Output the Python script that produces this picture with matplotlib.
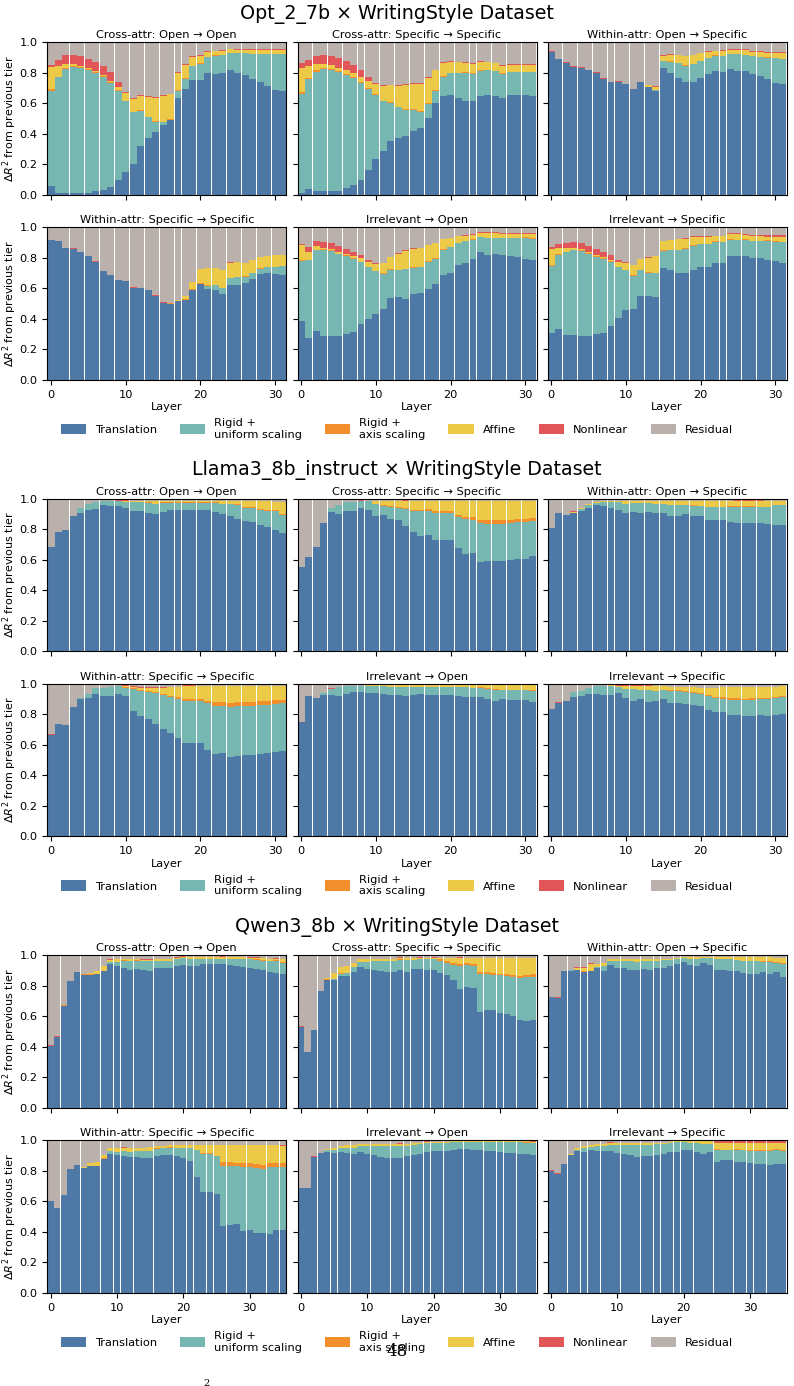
import numpy as np
import matplotlib
matplotlib.use("Agg")
import matplotlib.pyplot as plt
from matplotlib.patches import Patch

plt.rcParams.update({
    'font.family': 'DejaVu Sans',
    'font.size': 8.2,
    'axes.titlesize': 8.2,
    'axes.labelsize': 8.2,
    'xtick.labelsize': 8.2,
    'ytick.labelsize': 8.2,
    'axes.linewidth': 0.8,
})

TIER_LABELS = ["Translation", "Rigid +\nuniform scaling", "Rigid +\naxis scaling",
               "Affine", "Nonlinear", "Residual"]
TIER_COLORS = ["#4e79a7", "#76b7b2", "#f28e2b", "#edc948", "#e15759", "#bab0ac"]

PANEL_TITLES = ["Cross-attr: Open \u2192 Open", "Cross-attr: Specific \u2192 Specific",
                "Within-attr: Open \u2192 Specific", "Within-attr: Specific \u2192 Specific",
                "Irrelevant \u2192 Open", "Irrelevant \u2192 Specific"]
MODEL_TITLES = ["Opt_2_7b \u00d7 WritingStyle Dataset",
                "Llama3_8b_instruct \u00d7 WritingStyle Dataset",
                "Qwen3_8b \u00d7 WritingStyle Dataset"]

# cumulative R^2 reached after each tier (translation, +rigid, +axis, +affine, +nonlinear)
# residual = 1 - nonlinear level

# ---------------- Opt_2_7b ----------------
opt_cross_open_trans = [0.055, 0.015, 0.015, 0.010, 0.010, 0.015, 0.024, 0.030, 0.050, 0.100, 0.147, 0.200, 0.318, 0.370, 0.410, 0.456, 0.489, 0.634, 0.693, 0.752, 0.752, 0.798, 0.792, 0.800, 0.818, 0.798, 0.785, 0.759, 0.739, 0.713, 0.686, 0.680]
opt_cross_open_rigid = [0.680, 0.770, 0.825, 0.838, 0.833, 0.818, 0.800, 0.772, 0.732, 0.680, 0.614, 0.542, 0.548, 0.509, 0.480, 0.476, 0.489, 0.680, 0.759, 0.844, 0.860, 0.903, 0.912, 0.917, 0.930, 0.930, 0.928, 0.923, 0.923, 0.923, 0.923, 0.923]
opt_cross_open_axis = [0.695, 0.775, 0.830, 0.842, 0.838, 0.822, 0.805, 0.776, 0.737, 0.684, 0.618, 0.546, 0.553, 0.513, 0.483, 0.480, 0.498, 0.686, 0.763, 0.846, 0.864, 0.905, 0.914, 0.919, 0.932, 0.932, 0.930, 0.925, 0.925, 0.925, 0.925, 0.925]
opt_cross_open_affine = [0.840, 0.845, 0.857, 0.857, 0.845, 0.833, 0.810, 0.787, 0.748, 0.706, 0.667, 0.627, 0.647, 0.640, 0.638, 0.651, 0.660, 0.800, 0.853, 0.903, 0.910, 0.936, 0.940, 0.945, 0.956, 0.952, 0.950, 0.950, 0.952, 0.952, 0.952, 0.952]
opt_cross_open_nonlin = [0.850, 0.885, 0.917, 0.917, 0.910, 0.890, 0.870, 0.845, 0.807, 0.741, 0.673, 0.634, 0.653, 0.647, 0.642, 0.654, 0.662, 0.807, 0.860, 0.912, 0.917, 0.943, 0.945, 0.950, 0.958, 0.956, 0.954, 0.954, 0.956, 0.956, 0.956, 0.956]

opt_cross_spec_trans = [0.015, 0.035, 0.028, 0.028, 0.028, 0.028, 0.042, 0.061, 0.100, 0.160, 0.232, 0.285, 0.351, 0.370, 0.384, 0.417, 0.436, 0.502, 0.600, 0.647, 0.653, 0.634, 0.614, 0.614, 0.647, 0.653, 0.647, 0.634, 0.653, 0.653, 0.653, 0.647]
opt_cross_spec_rigid = [0.662, 0.759, 0.807, 0.825, 0.818, 0.807, 0.787, 0.765, 0.732, 0.693, 0.654, 0.612, 0.600, 0.575, 0.555, 0.555, 0.544, 0.594, 0.680, 0.772, 0.798, 0.798, 0.798, 0.792, 0.811, 0.818, 0.811, 0.792, 0.805, 0.805, 0.805, 0.805]
opt_cross_spec_axis = [0.673, 0.763, 0.816, 0.830, 0.824, 0.814, 0.793, 0.772, 0.739, 0.700, 0.660, 0.618, 0.607, 0.579, 0.561, 0.561, 0.550, 0.600, 0.684, 0.778, 0.800, 0.800, 0.803, 0.798, 0.818, 0.820, 0.813, 0.798, 0.807, 0.807, 0.807, 0.807]
opt_cross_spec_affine = [0.833, 0.844, 0.857, 0.857, 0.850, 0.831, 0.818, 0.798, 0.772, 0.746, 0.726, 0.713, 0.717, 0.715, 0.720, 0.726, 0.726, 0.765, 0.818, 0.864, 0.870, 0.870, 0.864, 0.857, 0.870, 0.870, 0.864, 0.844, 0.851, 0.851, 0.851, 0.851]
opt_cross_spec_nonlin = [0.864, 0.884, 0.910, 0.917, 0.910, 0.897, 0.877, 0.851, 0.818, 0.772, 0.732, 0.717, 0.720, 0.718, 0.724, 0.732, 0.732, 0.770, 0.820, 0.870, 0.877, 0.874, 0.870, 0.864, 0.877, 0.874, 0.867, 0.851, 0.855, 0.855, 0.857, 0.857]

opt_within_open_trans = [0.936, 0.890, 0.864, 0.838, 0.831, 0.818, 0.798, 0.759, 0.739, 0.739, 0.726, 0.693, 0.739, 0.706, 0.680, 0.831, 0.798, 0.765, 0.739, 0.739, 0.765, 0.792, 0.811, 0.805, 0.825, 0.811, 0.811, 0.792, 0.778, 0.759, 0.732, 0.726]
opt_within_open_rigid = [0.936, 0.890, 0.864, 0.838, 0.831, 0.818, 0.798, 0.759, 0.739, 0.739, 0.726, 0.693, 0.739, 0.706, 0.686, 0.877, 0.870, 0.864, 0.844, 0.857, 0.877, 0.897, 0.910, 0.910, 0.923, 0.923, 0.917, 0.910, 0.903, 0.897, 0.897, 0.890]
opt_within_open_axis = [0.936, 0.890, 0.864, 0.838, 0.831, 0.818, 0.798, 0.759, 0.739, 0.739, 0.726, 0.693, 0.739, 0.706, 0.686, 0.879, 0.877, 0.866, 0.851, 0.859, 0.879, 0.899, 0.917, 0.912, 0.925, 0.925, 0.919, 0.912, 0.905, 0.903, 0.899, 0.892]
opt_within_open_affine = [0.936, 0.890, 0.864, 0.838, 0.831, 0.818, 0.798, 0.759, 0.739, 0.739, 0.726, 0.693, 0.739, 0.720, 0.706, 0.910, 0.917, 0.917, 0.910, 0.917, 0.930, 0.936, 0.943, 0.943, 0.950, 0.952, 0.950, 0.936, 0.936, 0.930, 0.930, 0.930]
opt_within_open_nonlin = [0.943, 0.890, 0.870, 0.844, 0.835, 0.818, 0.805, 0.765, 0.739, 0.746, 0.726, 0.693, 0.739, 0.720, 0.713, 0.917, 0.923, 0.920, 0.912, 0.920, 0.933, 0.943, 0.946, 0.950, 0.956, 0.956, 0.953, 0.943, 0.940, 0.936, 0.936, 0.936]

opt_within_spec_trans = [0.919, 0.910, 0.867, 0.860, 0.838, 0.812, 0.772, 0.713, 0.687, 0.654, 0.648, 0.602, 0.602, 0.589, 0.549, 0.503, 0.497, 0.516, 0.523, 0.589, 0.626, 0.595, 0.589, 0.562, 0.621, 0.621, 0.635, 0.661, 0.694, 0.700, 0.694, 0.687]
opt_within_spec_rigid = [0.919, 0.910, 0.867, 0.860, 0.838, 0.812, 0.772, 0.713, 0.687, 0.654, 0.648, 0.602, 0.602, 0.589, 0.549, 0.503, 0.497, 0.516, 0.523, 0.589, 0.630, 0.615, 0.621, 0.602, 0.667, 0.674, 0.674, 0.700, 0.726, 0.740, 0.740, 0.746]
opt_within_spec_axis = [0.919, 0.910, 0.867, 0.860, 0.838, 0.812, 0.772, 0.713, 0.687, 0.654, 0.648, 0.602, 0.602, 0.589, 0.549, 0.505, 0.503, 0.520, 0.530, 0.595, 0.634, 0.621, 0.623, 0.604, 0.669, 0.676, 0.680, 0.702, 0.733, 0.742, 0.742, 0.748]
opt_within_spec_affine = [0.919, 0.910, 0.867, 0.860, 0.838, 0.812, 0.772, 0.713, 0.687, 0.654, 0.648, 0.602, 0.602, 0.589, 0.549, 0.505, 0.503, 0.523, 0.549, 0.641, 0.726, 0.733, 0.733, 0.720, 0.766, 0.772, 0.766, 0.786, 0.805, 0.812, 0.818, 0.818]
opt_within_spec_nonlin = [0.919, 0.910, 0.867, 0.864, 0.838, 0.812, 0.779, 0.713, 0.687, 0.654, 0.648, 0.608, 0.602, 0.589, 0.556, 0.510, 0.503, 0.523, 0.549, 0.641, 0.726, 0.733, 0.733, 0.720, 0.772, 0.772, 0.766, 0.786, 0.805, 0.812, 0.818, 0.818]

opt_irr_open_trans = [0.385, 0.274, 0.320, 0.287, 0.287, 0.287, 0.300, 0.313, 0.365, 0.398, 0.431, 0.464, 0.536, 0.543, 0.530, 0.562, 0.569, 0.595, 0.628, 0.687, 0.700, 0.753, 0.766, 0.792, 0.838, 0.818, 0.825, 0.818, 0.812, 0.805, 0.792, 0.786]
opt_irr_open_rigid = [0.779, 0.786, 0.851, 0.851, 0.845, 0.825, 0.812, 0.792, 0.772, 0.740, 0.713, 0.694, 0.720, 0.720, 0.726, 0.733, 0.740, 0.772, 0.792, 0.851, 0.871, 0.897, 0.910, 0.917, 0.937, 0.930, 0.930, 0.930, 0.930, 0.930, 0.930, 0.923]
opt_irr_open_axis = [0.786, 0.788, 0.853, 0.856, 0.851, 0.827, 0.817, 0.797, 0.774, 0.742, 0.715, 0.700, 0.726, 0.722, 0.728, 0.740, 0.742, 0.779, 0.799, 0.858, 0.873, 0.899, 0.912, 0.923, 0.939, 0.932, 0.932, 0.932, 0.932, 0.932, 0.935, 0.928]
opt_irr_open_affine = [0.884, 0.838, 0.877, 0.864, 0.858, 0.838, 0.825, 0.812, 0.799, 0.772, 0.759, 0.766, 0.805, 0.825, 0.845, 0.858, 0.864, 0.884, 0.897, 0.923, 0.930, 0.943, 0.943, 0.950, 0.963, 0.963, 0.963, 0.956, 0.956, 0.956, 0.956, 0.956]
opt_irr_open_nonlin = [0.890, 0.871, 0.910, 0.904, 0.897, 0.877, 0.858, 0.838, 0.818, 0.786, 0.766, 0.769, 0.808, 0.831, 0.848, 0.861, 0.867, 0.887, 0.900, 0.926, 0.933, 0.946, 0.950, 0.956, 0.966, 0.966, 0.966, 0.963, 0.963, 0.963, 0.963, 0.963]

opt_irr_spec_trans = [0.306, 0.333, 0.293, 0.293, 0.287, 0.287, 0.300, 0.306, 0.352, 0.405, 0.457, 0.464, 0.549, 0.549, 0.543, 0.733, 0.720, 0.700, 0.700, 0.720, 0.740, 0.740, 0.766, 0.766, 0.812, 0.812, 0.812, 0.799, 0.799, 0.786, 0.779, 0.766]
opt_irr_spec_rigid = [0.746, 0.818, 0.838, 0.849, 0.845, 0.825, 0.805, 0.792, 0.772, 0.740, 0.720, 0.681, 0.720, 0.700, 0.700, 0.845, 0.851, 0.851, 0.858, 0.877, 0.890, 0.890, 0.904, 0.904, 0.917, 0.917, 0.917, 0.910, 0.910, 0.910, 0.904, 0.904]
opt_irr_spec_axis = [0.753, 0.825, 0.840, 0.851, 0.851, 0.831, 0.811, 0.797, 0.779, 0.742, 0.722, 0.687, 0.722, 0.707, 0.702, 0.851, 0.853, 0.853, 0.864, 0.884, 0.892, 0.892, 0.910, 0.906, 0.923, 0.919, 0.923, 0.912, 0.912, 0.917, 0.910, 0.906]
opt_irr_spec_affine = [0.858, 0.864, 0.864, 0.864, 0.858, 0.838, 0.818, 0.805, 0.786, 0.772, 0.766, 0.753, 0.792, 0.799, 0.812, 0.910, 0.917, 0.923, 0.923, 0.937, 0.937, 0.937, 0.943, 0.943, 0.956, 0.956, 0.950, 0.943, 0.943, 0.937, 0.937, 0.937]
opt_irr_spec_nonlin = [0.871, 0.890, 0.897, 0.904, 0.897, 0.877, 0.858, 0.838, 0.818, 0.786, 0.770, 0.756, 0.795, 0.802, 0.815, 0.913, 0.920, 0.926, 0.930, 0.940, 0.943, 0.943, 0.946, 0.946, 0.960, 0.960, 0.956, 0.950, 0.950, 0.950, 0.950, 0.950]

# ---------------- Llama3_8b_instruct ----------------
llama_cross_open_trans = [0.686, 0.784, 0.797, 0.889, 0.908, 0.928, 0.935, 0.961, 0.954, 0.954, 0.941, 0.922, 0.922, 0.908, 0.902, 0.915, 0.928, 0.928, 0.928, 0.928, 0.928, 0.928, 0.915, 0.902, 0.889, 0.869, 0.856, 0.850, 0.830, 0.817, 0.797, 0.778]
llama_cross_open_rigid = [0.686, 0.784, 0.797, 0.889, 0.941, 0.967, 0.980, 0.987, 0.987, 0.987, 0.980, 0.980, 0.980, 0.974, 0.967, 0.974, 0.974, 0.974, 0.974, 0.974, 0.974, 0.974, 0.974, 0.967, 0.967, 0.961, 0.941, 0.941, 0.928, 0.922, 0.922, 0.895]
llama_cross_open_axis = [0.686, 0.784, 0.797, 0.889, 0.941, 0.967, 0.980, 0.987, 0.987, 0.987, 0.980, 0.980, 0.980, 0.978, 0.969, 0.976, 0.976, 0.976, 0.976, 0.976, 0.976, 0.976, 0.976, 0.969, 0.969, 0.963, 0.948, 0.944, 0.935, 0.928, 0.928, 0.902]
llama_cross_open_affine = [0.686, 0.784, 0.797, 0.889, 0.941, 0.967, 0.980, 0.987, 0.987, 0.987, 0.987, 0.987, 0.987, 0.987, 0.987, 0.987, 0.987, 0.987, 0.987, 0.987, 0.987, 0.987, 0.987, 0.987, 0.987, 0.987, 0.987, 0.987, 0.987, 0.985, 0.980, 0.980]
llama_cross_open_nonlin = [0.686, 0.784, 0.797, 0.889, 0.941, 0.967, 0.980, 0.987, 0.987, 0.993, 0.993, 0.987, 0.987, 0.987, 0.987, 0.987, 0.987, 0.987, 0.987, 0.987, 0.987, 0.987, 0.987, 0.987, 0.987, 0.987, 0.987, 0.987, 0.987, 0.985, 0.980, 0.980]

llama_cross_spec_trans = [0.556, 0.620, 0.686, 0.843, 0.915, 0.902, 0.922, 0.922, 0.941, 0.928, 0.889, 0.895, 0.869, 0.863, 0.824, 0.784, 0.758, 0.765, 0.732, 0.732, 0.732, 0.680, 0.640, 0.647, 0.588, 0.595, 0.595, 0.595, 0.601, 0.608, 0.608, 0.627]
llama_cross_spec_rigid = [0.556, 0.620, 0.686, 0.843, 0.941, 0.961, 0.980, 0.980, 0.987, 0.987, 0.967, 0.954, 0.948, 0.941, 0.935, 0.922, 0.922, 0.922, 0.908, 0.908, 0.908, 0.882, 0.869, 0.863, 0.843, 0.837, 0.837, 0.837, 0.843, 0.850, 0.850, 0.856]
llama_cross_spec_axis = [0.556, 0.620, 0.686, 0.843, 0.941, 0.961, 0.980, 0.980, 0.987, 0.987, 0.967, 0.961, 0.950, 0.944, 0.941, 0.928, 0.928, 0.935, 0.922, 0.922, 0.922, 0.895, 0.882, 0.882, 0.863, 0.863, 0.863, 0.863, 0.863, 0.869, 0.869, 0.876]
llama_cross_spec_affine = [0.556, 0.620, 0.686, 0.843, 0.941, 0.961, 0.980, 0.980, 0.987, 0.987, 0.987, 0.987, 0.987, 0.987, 0.987, 0.987, 0.987, 0.987, 0.987, 0.987, 0.987, 0.987, 0.987, 0.987, 0.987, 0.987, 0.987, 0.987, 0.987, 0.987, 0.987, 0.987]
llama_cross_spec_nonlin = [0.556, 0.620, 0.686, 0.843, 0.941, 0.961, 0.980, 0.980, 0.993, 0.987, 0.987, 0.987, 0.987, 0.987, 0.991, 0.987, 0.987, 0.987, 0.987, 0.987, 0.987, 0.987, 0.987, 0.987, 0.987, 0.987, 0.987, 0.987, 0.987, 0.987, 0.987, 0.987]

llama_within_open_trans = [0.810, 0.908, 0.895, 0.908, 0.922, 0.941, 0.961, 0.954, 0.941, 0.928, 0.908, 0.915, 0.908, 0.915, 0.908, 0.908, 0.889, 0.889, 0.902, 0.889, 0.889, 0.863, 0.863, 0.863, 0.850, 0.843, 0.843, 0.843, 0.843, 0.837, 0.830, 0.830]
llama_within_open_rigid = [0.810, 0.908, 0.895, 0.908, 0.935, 0.961, 0.974, 0.980, 0.980, 0.980, 0.967, 0.974, 0.974, 0.974, 0.967, 0.967, 0.961, 0.961, 0.961, 0.954, 0.954, 0.948, 0.948, 0.948, 0.948, 0.948, 0.948, 0.948, 0.948, 0.948, 0.961, 0.961]
llama_within_open_axis = [0.810, 0.908, 0.895, 0.908, 0.935, 0.961, 0.974, 0.980, 0.980, 0.980, 0.967, 0.974, 0.974, 0.974, 0.967, 0.967, 0.961, 0.961, 0.961, 0.958, 0.954, 0.948, 0.948, 0.948, 0.954, 0.954, 0.954, 0.954, 0.948, 0.948, 0.961, 0.961]
llama_within_open_affine = [0.810, 0.908, 0.895, 0.915, 0.941, 0.967, 0.980, 0.987, 0.987, 0.987, 0.987, 0.987, 0.987, 0.987, 0.987, 0.987, 0.987, 0.987, 0.987, 0.987, 0.987, 0.987, 0.987, 0.987, 0.987, 0.987, 0.987, 0.987, 0.987, 0.987, 0.987, 0.987]
llama_within_open_nonlin = [0.810, 0.908, 0.895, 0.920, 0.941, 0.967, 0.980, 0.987, 0.987, 0.987, 0.987, 0.987, 0.987, 0.987, 0.987, 0.987, 0.987, 0.987, 0.987, 0.987, 0.987, 0.987, 0.987, 0.987, 0.987, 0.993, 0.993, 0.993, 0.993, 0.987, 0.987, 0.987]

llama_within_spec_trans = [0.664, 0.738, 0.731, 0.849, 0.902, 0.908, 0.934, 0.921, 0.921, 0.934, 0.921, 0.823, 0.790, 0.771, 0.738, 0.705, 0.679, 0.646, 0.614, 0.614, 0.614, 0.568, 0.541, 0.548, 0.522, 0.528, 0.535, 0.535, 0.541, 0.548, 0.555, 0.561]
llama_within_spec_rigid = [0.664, 0.738, 0.731, 0.849, 0.905, 0.934, 0.974, 0.974, 0.980, 0.987, 0.974, 0.967, 0.954, 0.948, 0.941, 0.928, 0.915, 0.902, 0.889, 0.889, 0.889, 0.876, 0.856, 0.856, 0.849, 0.856, 0.856, 0.856, 0.862, 0.862, 0.869, 0.876]
llama_within_spec_axis = [0.664, 0.738, 0.731, 0.849, 0.905, 0.934, 0.974, 0.974, 0.980, 0.987, 0.980, 0.974, 0.961, 0.954, 0.948, 0.934, 0.921, 0.915, 0.902, 0.902, 0.902, 0.889, 0.882, 0.882, 0.876, 0.882, 0.882, 0.882, 0.889, 0.889, 0.895, 0.895]
llama_within_spec_affine = [0.664, 0.738, 0.731, 0.849, 0.905, 0.934, 0.974, 0.974, 0.980, 0.987, 0.987, 0.980, 0.974, 0.974, 0.974, 0.974, 0.980, 0.980, 0.987, 0.987, 0.987, 0.987, 0.987, 0.987, 0.987, 0.987, 0.987, 0.987, 0.987, 0.987, 0.987, 0.987]
llama_within_spec_nonlin = [0.672, 0.738, 0.731, 0.849, 0.905, 0.934, 0.974, 0.974, 0.980, 0.987, 0.993, 0.987, 0.977, 0.977, 0.977, 0.977, 0.980, 0.980, 0.993, 0.993, 0.987, 0.987, 0.987, 0.987, 0.987, 0.987, 0.987, 0.987, 0.987, 0.987, 0.987, 0.987]

llama_irr_open_trans = [0.751, 0.921, 0.908, 0.928, 0.928, 0.921, 0.934, 0.948, 0.948, 0.941, 0.941, 0.934, 0.928, 0.928, 0.921, 0.928, 0.934, 0.928, 0.928, 0.928, 0.928, 0.921, 0.915, 0.915, 0.915, 0.902, 0.889, 0.902, 0.895, 0.895, 0.895, 0.882]
llama_irr_open_rigid = [0.751, 0.921, 0.908, 0.941, 0.967, 0.980, 0.987, 0.987, 0.987, 0.987, 0.987, 0.987, 0.980, 0.980, 0.980, 0.980, 0.980, 0.980, 0.980, 0.980, 0.980, 0.980, 0.980, 0.974, 0.974, 0.967, 0.961, 0.961, 0.961, 0.961, 0.961, 0.954]
llama_irr_open_axis = [0.751, 0.921, 0.908, 0.941, 0.967, 0.980, 0.987, 0.987, 0.987, 0.987, 0.987, 0.987, 0.980, 0.980, 0.980, 0.980, 0.980, 0.980, 0.980, 0.980, 0.980, 0.980, 0.980, 0.974, 0.978, 0.972, 0.966, 0.961, 0.961, 0.961, 0.961, 0.960]
llama_irr_open_affine = [0.751, 0.921, 0.908, 0.941, 0.967, 0.980, 0.987, 0.987, 0.987, 0.990, 0.990, 0.990, 0.990, 0.990, 0.990, 0.990, 0.990, 0.990, 0.990, 0.990, 0.990, 0.990, 0.990, 0.990, 0.990, 0.990, 0.990, 0.990, 0.990, 0.990, 0.990, 0.990]
llama_irr_open_nonlin = [0.751, 0.921, 0.908, 0.941, 0.972, 0.980, 0.987, 0.987, 0.987, 0.990, 0.990, 0.990, 0.990, 0.990, 0.990, 0.990, 0.990, 0.996, 0.996, 0.990, 0.990, 0.990, 0.994, 0.990, 0.990, 0.990, 0.990, 0.990, 0.990, 0.990, 0.990, 0.990]

llama_irr_spec_trans = [0.836, 0.876, 0.889, 0.915, 0.921, 0.934, 0.934, 0.928, 0.928, 0.941, 0.908, 0.889, 0.902, 0.882, 0.889, 0.902, 0.876, 0.876, 0.869, 0.862, 0.856, 0.830, 0.817, 0.817, 0.797, 0.797, 0.790, 0.790, 0.797, 0.790, 0.797, 0.803]
llama_irr_spec_rigid = [0.836, 0.876, 0.889, 0.948, 0.954, 0.974, 0.987, 0.987, 0.987, 0.980, 0.967, 0.967, 0.961, 0.961, 0.954, 0.961, 0.954, 0.954, 0.948, 0.941, 0.934, 0.921, 0.908, 0.902, 0.895, 0.895, 0.895, 0.895, 0.902, 0.902, 0.908, 0.915]
llama_irr_spec_axis = [0.836, 0.876, 0.889, 0.948, 0.954, 0.974, 0.987, 0.987, 0.987, 0.980, 0.967, 0.967, 0.961, 0.961, 0.954, 0.961, 0.961, 0.961, 0.954, 0.945, 0.941, 0.928, 0.915, 0.915, 0.908, 0.908, 0.902, 0.908, 0.908, 0.905, 0.915, 0.921]
llama_irr_spec_affine = [0.836, 0.876, 0.889, 0.948, 0.954, 0.974, 0.987, 0.987, 0.993, 0.987, 0.987, 0.987, 0.987, 0.987, 0.987, 0.987, 0.980, 0.980, 0.980, 0.980, 0.974, 0.974, 0.974, 0.980, 0.980, 0.980, 0.980, 0.980, 0.980, 0.980, 0.980, 0.987]
llama_irr_spec_nonlin = [0.836, 0.882, 0.889, 0.948, 0.954, 0.974, 0.987, 0.987, 0.993, 0.993, 0.993, 0.993, 0.993, 0.993, 0.987, 0.987, 0.980, 0.980, 0.980, 0.980, 0.974, 0.974, 0.974, 0.980, 0.980, 0.980, 0.980, 0.980, 0.980, 0.980, 0.980, 0.987]

# ---------------- Qwen3_8b ----------------
qwen_cross_open_trans = [0.407, 0.466, 0.670, 0.834, 0.893, 0.873, 0.873, 0.880, 0.899, 0.945, 0.932, 0.919, 0.906, 0.912, 0.906, 0.899, 0.919, 0.919, 0.919, 0.932, 0.939, 0.932, 0.932, 0.945, 0.945, 0.945, 0.945, 0.939, 0.932, 0.925, 0.919, 0.912, 0.906, 0.893, 0.886, 0.880]
qwen_cross_open_rigid = [0.407, 0.466, 0.670, 0.834, 0.893, 0.873, 0.873, 0.880, 0.899, 0.958, 0.958, 0.965, 0.965, 0.965, 0.965, 0.965, 0.965, 0.965, 0.965, 0.978, 0.985, 0.978, 0.978, 0.978, 0.978, 0.978, 0.978, 0.978, 0.978, 0.978, 0.978, 0.971, 0.965, 0.965, 0.965, 0.952]
qwen_cross_open_axis = [0.407, 0.466, 0.672, 0.834, 0.893, 0.878, 0.878, 0.880, 0.899, 0.958, 0.958, 0.971, 0.965, 0.971, 0.965, 0.965, 0.965, 0.965, 0.965, 0.978, 0.985, 0.978, 0.978, 0.978, 0.978, 0.978, 0.978, 0.978, 0.978, 0.978, 0.978, 0.978, 0.971, 0.965, 0.971, 0.958]
qwen_cross_open_affine = [0.407, 0.466, 0.672, 0.834, 0.893, 0.878, 0.886, 0.899, 0.932, 0.972, 0.978, 0.978, 0.978, 0.978, 0.971, 0.971, 0.978, 0.978, 0.978, 0.985, 0.991, 0.991, 0.991, 0.991, 0.991, 0.991, 0.991, 0.991, 0.991, 0.991, 0.985, 0.985, 0.985, 0.978, 0.978, 0.978]
qwen_cross_open_nonlin = [0.414, 0.473, 0.676, 0.834, 0.893, 0.878, 0.886, 0.899, 0.932, 0.978, 0.978, 0.978, 0.978, 0.978, 0.978, 0.978, 0.978, 0.978, 0.978, 0.991, 0.997, 0.991, 0.991, 0.991, 0.991, 0.991, 0.997, 0.991, 0.991, 0.991, 0.991, 0.991, 0.985, 0.978, 0.985, 0.978]

qwen_cross_spec_trans = [0.532, 0.368, 0.512, 0.768, 0.840, 0.840, 0.867, 0.867, 0.893, 0.926, 0.912, 0.906, 0.899, 0.893, 0.893, 0.906, 0.893, 0.912, 0.912, 0.906, 0.906, 0.886, 0.873, 0.840, 0.781, 0.794, 0.788, 0.630, 0.643, 0.643, 0.624, 0.617, 0.604, 0.578, 0.571, 0.578]
qwen_cross_spec_rigid = [0.532, 0.368, 0.512, 0.768, 0.840, 0.847, 0.880, 0.886, 0.926, 0.958, 0.958, 0.965, 0.965, 0.965, 0.965, 0.971, 0.971, 0.971, 0.978, 0.978, 0.978, 0.965, 0.952, 0.939, 0.932, 0.939, 0.932, 0.880, 0.880, 0.873, 0.873, 0.867, 0.860, 0.853, 0.860, 0.860]
qwen_cross_spec_axis = [0.532, 0.368, 0.512, 0.768, 0.847, 0.847, 0.886, 0.886, 0.926, 0.958, 0.958, 0.965, 0.965, 0.965, 0.965, 0.978, 0.971, 0.971, 0.978, 0.978, 0.978, 0.978, 0.965, 0.952, 0.945, 0.952, 0.945, 0.893, 0.893, 0.886, 0.880, 0.880, 0.873, 0.867, 0.873, 0.880]
qwen_cross_spec_affine = [0.532, 0.368, 0.512, 0.768, 0.853, 0.886, 0.926, 0.932, 0.952, 0.978, 0.978, 0.978, 0.978, 0.978, 0.978, 0.985, 0.985, 0.985, 0.985, 0.985, 0.985, 0.985, 0.985, 0.985, 0.985, 0.985, 0.985, 0.985, 0.985, 0.985, 0.985, 0.985, 0.985, 0.985, 0.985, 0.985]
qwen_cross_spec_nonlin = [0.538, 0.368, 0.512, 0.768, 0.853, 0.886, 0.926, 0.932, 0.952, 0.978, 0.978, 0.978, 0.978, 0.978, 0.978, 0.991, 0.985, 0.985, 0.991, 0.985, 0.991, 0.985, 0.985, 0.985, 0.991, 0.985, 0.985, 0.985, 0.985, 0.985, 0.985, 0.985, 0.985, 0.985, 0.985, 0.985]

qwen_within_open_trans = [0.729, 0.722, 0.899, 0.899, 0.906, 0.893, 0.899, 0.919, 0.899, 0.939, 0.919, 0.919, 0.906, 0.906, 0.912, 0.906, 0.919, 0.919, 0.932, 0.945, 0.958, 0.939, 0.932, 0.952, 0.939, 0.906, 0.906, 0.899, 0.899, 0.886, 0.880, 0.880, 0.893, 0.880, 0.893, 0.860]
qwen_within_open_rigid = [0.729, 0.722, 0.899, 0.905, 0.906, 0.893, 0.899, 0.926, 0.932, 0.965, 0.965, 0.965, 0.965, 0.958, 0.965, 0.965, 0.965, 0.971, 0.971, 0.978, 0.985, 0.978, 0.978, 0.985, 0.985, 0.978, 0.978, 0.978, 0.971, 0.965, 0.965, 0.965, 0.958, 0.958, 0.952, 0.945]
qwen_within_open_axis = [0.729, 0.722, 0.899, 0.905, 0.906, 0.899, 0.899, 0.926, 0.932, 0.965, 0.965, 0.965, 0.965, 0.958, 0.965, 0.965, 0.965, 0.971, 0.971, 0.978, 0.985, 0.978, 0.978, 0.985, 0.985, 0.978, 0.978, 0.978, 0.971, 0.965, 0.965, 0.965, 0.965, 0.965, 0.958, 0.952]
qwen_within_open_affine = [0.729, 0.722, 0.899, 0.905, 0.919, 0.919, 0.945, 0.945, 0.952, 0.978, 0.978, 0.978, 0.978, 0.978, 0.978, 0.978, 0.978, 0.978, 0.978, 0.985, 0.991, 0.991, 0.991, 0.991, 0.991, 0.991, 0.991, 0.991, 0.991, 0.991, 0.991, 0.991, 0.991, 0.991, 0.985, 0.985]
qwen_within_open_nonlin = [0.729, 0.728, 0.899, 0.905, 0.926, 0.926, 0.952, 0.945, 0.952, 0.978, 0.978, 0.978, 0.978, 0.978, 0.978, 0.978, 0.978, 0.978, 0.978, 0.985, 0.991, 0.991, 0.991, 0.991, 0.991, 0.991, 0.991, 0.991, 0.991, 0.991, 0.991, 0.991, 0.991, 0.991, 0.985, 0.985]

qwen_within_spec_trans = [0.600, 0.555, 0.640, 0.810, 0.836, 0.817, 0.830, 0.830, 0.876, 0.908, 0.902, 0.895, 0.889, 0.889, 0.882, 0.882, 0.895, 0.902, 0.902, 0.895, 0.882, 0.862, 0.758, 0.659, 0.659, 0.646, 0.437, 0.443, 0.450, 0.404, 0.410, 0.391, 0.391, 0.384, 0.410, 0.410]
qwen_within_spec_rigid = [0.600, 0.555, 0.640, 0.810, 0.836, 0.817, 0.830, 0.830, 0.876, 0.928, 0.921, 0.928, 0.921, 0.928, 0.928, 0.928, 0.941, 0.948, 0.948, 0.948, 0.948, 0.948, 0.934, 0.908, 0.908, 0.895, 0.830, 0.830, 0.830, 0.823, 0.823, 0.817, 0.810, 0.823, 0.823, 0.823]
qwen_within_spec_axis = [0.600, 0.555, 0.640, 0.810, 0.836, 0.817, 0.830, 0.830, 0.882, 0.928, 0.921, 0.928, 0.921, 0.928, 0.928, 0.928, 0.948, 0.948, 0.954, 0.948, 0.948, 0.948, 0.934, 0.915, 0.915, 0.895, 0.856, 0.856, 0.849, 0.849, 0.849, 0.843, 0.836, 0.849, 0.849, 0.849]
qwen_within_spec_affine = [0.600, 0.555, 0.640, 0.810, 0.836, 0.823, 0.850, 0.856, 0.902, 0.948, 0.948, 0.948, 0.948, 0.948, 0.948, 0.954, 0.961, 0.961, 0.967, 0.967, 0.967, 0.967, 0.967, 0.967, 0.967, 0.967, 0.967, 0.967, 0.967, 0.967, 0.967, 0.967, 0.967, 0.967, 0.967, 0.961]
qwen_within_spec_nonlin = [0.600, 0.555, 0.640, 0.810, 0.836, 0.823, 0.850, 0.856, 0.902, 0.948, 0.948, 0.954, 0.948, 0.948, 0.948, 0.957, 0.961, 0.961, 0.967, 0.967, 0.967, 0.967, 0.970, 0.967, 0.967, 0.967, 0.970, 0.970, 0.970, 0.970, 0.970, 0.970, 0.970, 0.970, 0.967, 0.967]

qwen_irr_open_trans = [0.686, 0.686, 0.889, 0.915, 0.921, 0.915, 0.921, 0.915, 0.908, 0.921, 0.908, 0.902, 0.889, 0.882, 0.882, 0.882, 0.895, 0.902, 0.908, 0.921, 0.928, 0.928, 0.928, 0.934, 0.941, 0.941, 0.934, 0.934, 0.928, 0.928, 0.921, 0.915, 0.915, 0.908, 0.908, 0.902]
qwen_irr_open_rigid = [0.686, 0.686, 0.889, 0.915, 0.934, 0.934, 0.948, 0.948, 0.948, 0.961, 0.961, 0.961, 0.961, 0.961, 0.961, 0.961, 0.961, 0.967, 0.974, 0.980, 0.980, 0.980, 0.980, 0.987, 0.987, 0.987, 0.987, 0.987, 0.987, 0.987, 0.987, 0.987, 0.987, 0.987, 0.980, 0.980]
qwen_irr_open_axis = [0.686, 0.686, 0.889, 0.915, 0.934, 0.934, 0.948, 0.948, 0.948, 0.961, 0.961, 0.961, 0.961, 0.961, 0.961, 0.961, 0.961, 0.967, 0.974, 0.980, 0.980, 0.980, 0.980, 0.987, 0.987, 0.987, 0.987, 0.987, 0.987, 0.987, 0.987, 0.987, 0.987, 0.987, 0.987, 0.980]
qwen_irr_open_affine = [0.686, 0.686, 0.889, 0.915, 0.941, 0.948, 0.961, 0.967, 0.967, 0.974, 0.974, 0.974, 0.974, 0.974, 0.974, 0.974, 0.974, 0.980, 0.980, 0.987, 0.987, 0.987, 0.987, 0.993, 0.993, 0.993, 0.993, 0.993, 0.993, 0.993, 0.993, 0.993, 0.993, 0.993, 0.993, 0.987]
qwen_irr_open_nonlin = [0.686, 0.686, 0.895, 0.915, 0.941, 0.948, 0.961, 0.967, 0.967, 0.974, 0.974, 0.974, 0.974, 0.974, 0.974, 0.980, 0.974, 0.980, 0.980, 0.993, 0.987, 0.987, 0.987, 0.993, 0.993, 0.993, 0.993, 0.993, 0.993, 0.993, 0.993, 0.993, 0.993, 0.997, 0.997, 0.993]

qwen_irr_spec_trans = [0.797, 0.777, 0.843, 0.902, 0.928, 0.921, 0.934, 0.928, 0.928, 0.928, 0.915, 0.908, 0.902, 0.889, 0.895, 0.895, 0.902, 0.908, 0.921, 0.921, 0.934, 0.934, 0.921, 0.908, 0.921, 0.856, 0.869, 0.869, 0.856, 0.856, 0.849, 0.843, 0.843, 0.836, 0.843, 0.843]
qwen_irr_spec_rigid = [0.797, 0.777, 0.843, 0.902, 0.934, 0.948, 0.954, 0.961, 0.961, 0.967, 0.967, 0.967, 0.967, 0.967, 0.967, 0.967, 0.974, 0.974, 0.980, 0.987, 0.987, 0.980, 0.980, 0.974, 0.974, 0.934, 0.934, 0.934, 0.934, 0.934, 0.928, 0.928, 0.928, 0.928, 0.934, 0.928]
qwen_irr_spec_axis = [0.797, 0.777, 0.843, 0.902, 0.934, 0.948, 0.954, 0.961, 0.961, 0.967, 0.967, 0.967, 0.967, 0.967, 0.967, 0.967, 0.974, 0.974, 0.980, 0.987, 0.987, 0.980, 0.980, 0.974, 0.974, 0.940, 0.934, 0.934, 0.940, 0.934, 0.935, 0.935, 0.937, 0.937, 0.941, 0.937]
qwen_irr_spec_affine = [0.797, 0.777, 0.843, 0.908, 0.948, 0.961, 0.967, 0.974, 0.974, 0.980, 0.980, 0.980, 0.980, 0.980, 0.980, 0.980, 0.980, 0.980, 0.987, 0.993, 0.993, 0.993, 0.993, 0.993, 0.993, 0.985, 0.985, 0.985, 0.985, 0.985, 0.985, 0.985, 0.985, 0.985, 0.985, 0.985]
qwen_irr_spec_nonlin = [0.803, 0.783, 0.843, 0.908, 0.948, 0.961, 0.967, 0.974, 0.974, 0.987, 0.980, 0.980, 0.980, 0.980, 0.980, 0.980, 0.980, 0.983, 0.990, 0.996, 0.993, 0.993, 0.993, 0.993, 0.993, 0.996, 0.996, 0.996, 0.996, 0.996, 0.996, 0.996, 0.996, 0.996, 0.996, 0.996]

models = [
    [
        [opt_cross_open_trans, opt_cross_open_rigid, opt_cross_open_axis, opt_cross_open_affine, opt_cross_open_nonlin],
        [opt_cross_spec_trans, opt_cross_spec_rigid, opt_cross_spec_axis, opt_cross_spec_affine, opt_cross_spec_nonlin],
        [opt_within_open_trans, opt_within_open_rigid, opt_within_open_axis, opt_within_open_affine, opt_within_open_nonlin],
        [opt_within_spec_trans, opt_within_spec_rigid, opt_within_spec_axis, opt_within_spec_affine, opt_within_spec_nonlin],
        [opt_irr_open_trans, opt_irr_open_rigid, opt_irr_open_axis, opt_irr_open_affine, opt_irr_open_nonlin],
        [opt_irr_spec_trans, opt_irr_spec_rigid, opt_irr_spec_axis, opt_irr_spec_affine, opt_irr_spec_nonlin],
    ],
    [
        [llama_cross_open_trans, llama_cross_open_rigid, llama_cross_open_axis, llama_cross_open_affine, llama_cross_open_nonlin],
        [llama_cross_spec_trans, llama_cross_spec_rigid, llama_cross_spec_axis, llama_cross_spec_affine, llama_cross_spec_nonlin],
        [llama_within_open_trans, llama_within_open_rigid, llama_within_open_axis, llama_within_open_affine, llama_within_open_nonlin],
        [llama_within_spec_trans, llama_within_spec_rigid, llama_within_spec_axis, llama_within_spec_affine, llama_within_spec_nonlin],
        [llama_irr_open_trans, llama_irr_open_rigid, llama_irr_open_axis, llama_irr_open_affine, llama_irr_open_nonlin],
        [llama_irr_spec_trans, llama_irr_spec_rigid, llama_irr_spec_axis, llama_irr_spec_affine, llama_irr_spec_nonlin],
    ],
    [
        [qwen_cross_open_trans, qwen_cross_open_rigid, qwen_cross_open_axis, qwen_cross_open_affine, qwen_cross_open_nonlin],
        [qwen_cross_spec_trans, qwen_cross_spec_rigid, qwen_cross_spec_axis, qwen_cross_spec_affine, qwen_cross_spec_nonlin],
        [qwen_within_open_trans, qwen_within_open_rigid, qwen_within_open_axis, qwen_within_open_affine, qwen_within_open_nonlin],
        [qwen_within_spec_trans, qwen_within_spec_rigid, qwen_within_spec_axis, qwen_within_spec_affine, qwen_within_spec_nonlin],
        [qwen_irr_open_trans, qwen_irr_open_rigid, qwen_irr_open_axis, qwen_irr_open_affine, qwen_irr_open_nonlin],
        [qwen_irr_spec_trans, qwen_irr_spec_rigid, qwen_irr_spec_axis, qwen_irr_spec_affine, qwen_irr_spec_nonlin],
    ],
]


def draw_panel(ax, levels):
    levels = np.maximum.accumulate(np.array(levels, dtype=float), axis=0)
    n = levels.shape[1]
    edges = np.vstack([np.zeros(n), levels, np.ones(n)])
    deltas = np.diff(edges, axis=0)
    layers = np.arange(n)
    for k in range(6):
        ax.bar(layers, deltas[k], bottom=edges[k], width=0.93,
               color=TIER_COLORS[k], linewidth=0)
    ax.set_xlim(-0.5, n - 0.5)
    ax.set_ylim(0, 1)


W, H = 794, 1386
fig = plt.figure(figsize=(W / 100, H / 100), dpi=100)

col_left = [47.3, 297.5, 547.5]
panel_w, panel_h = 239.0, 152.5

for b, panels in enumerate(models):
    top0 = 42.3 + 456.5 * b
    fig.text(0.5, 1 - (14 + 456.5 * b) / H, MODEL_TITLES[b], ha='center', va='center', fontsize=13.7)
    for p, levels in enumerate(panels):
        r, c = divmod(p, 3)
        top = top0 + 185 * r
        ax = fig.add_axes([col_left[c] / W, 1 - (top + panel_h) / H, panel_w / W, panel_h / H])
        draw_panel(ax, levels)
        ax.set_title(PANEL_TITLES[p], pad=3)
        ax.set_xticks([0, 10, 20, 30])
        ax.set_yticks(np.arange(0, 1.01, 0.2))
        if c == 0:
            ax.set_ylabel(r"$\Delta R^2$ from previous tier", labelpad=0.5, fontsize=8)
        else:
            ax.tick_params(labelleft=False)
        if r == 1:
            ax.set_xlabel("Layer", labelpad=2)
        else:
            ax.tick_params(labelbottom=False)

    handles = [Patch(facecolor=col, edgecolor='none') for col in TIER_COLORS]
    fig.legend(handles, TIER_LABELS, loc='center', ncol=6, frameon=False,
               bbox_to_anchor=(0.5, 1 - (429 + 456.5 * b) / H),
               handlelength=2.2, handleheight=1.05, fontsize=8.2)

fig.text(397 / W, 1 - 1351 / H, "48", ha='center', va='center', fontsize=12, family='DejaVu Serif')
fig.text(206 / W, 1 - 1379 / H, "2", ha='center', va='top', fontsize=7, family='DejaVu Serif')

plt.savefig("out.png", dpi=100)
plt.close()
